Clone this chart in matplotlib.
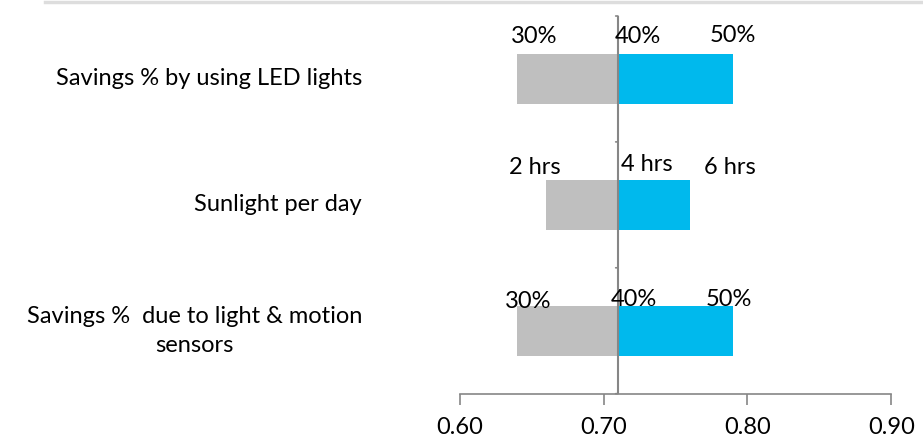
import matplotlib
matplotlib.use("Agg")
import matplotlib.pyplot as plt
from matplotlib.lines import Line2D

plt.rcParams['font.family'] = ['Lato', 'DejaVu Sans']

# Tornado chart: each factor swings around a base value
categories = ["Savings %  due to light & motion\nsensors",
              "Sunlight per day",
              "Savings % by using LED lights"]
base_value = 0.71
low_values = [0.64, 0.66, 0.64]
high_values = [0.79, 0.76, 0.79]
low_labels = ["30%", "2 hrs", "30%"]
mid_labels = ["40%", "4 hrs", "40%"]
high_labels = ["50%", "6 hrs", "50%"]
x_ticks = [0.60, 0.70, 0.80, 0.90]

GRAY = "#BFBFBF"
BLUE = "#00B9ED"
AXIS = "#868686"
FS = 17

fig = plt.figure(figsize=(9.23, 4.47), dpi=100)
ax = fig.add_axes([0.498, 0.1193, 0.4676, 0.8449])

ypos = list(range(len(categories)))
ax.barh(ypos, [lo - base_value for lo in low_values], left=base_value,
        height=0.4, color=GRAY, zorder=2)
ax.barh(ypos, [hi - base_value for hi in high_values], left=base_value,
        height=0.4, color=BLUE, zorder=2)

ax.set_xlim(0.60, 0.90)
ax.set_ylim(-0.5, len(categories) - 0.5)

# value axis along the bottom
ax.set_xticks(x_ticks)
ax.set_xticklabels([f"{t:.2f}" for t in x_ticks], fontsize=FS)
ax.tick_params(axis='x', direction='out', length=8, width=1.2, color=AXIS,
               pad=9)
for s in ['top', 'right', 'left']:
    ax.spines[s].set_visible(False)
ax.spines['bottom'].set_color(AXIS)
ax.spines['bottom'].set_linewidth(1.2)

# category axis crossing at the base value
ax.add_line(Line2D([base_value, base_value], [-0.5, len(categories) - 0.5],
                   color=AXIS, lw=1.5, zorder=3))
ax.set_yticks([])
for b in range(len(categories) + 1):
    ax.annotate("", xy=(base_value, b - 0.5), xycoords='data',
                xytext=(-5, 0), textcoords='offset pixels',
                arrowprops=dict(arrowstyle='-', color=AXIS, lw=1.2))

# category names to the left of the plot area
for y, name in zip(ypos, categories):
    ax.text(-0.226, y, name, transform=ax.get_yaxis_transform(),
            ha='right', va='center', multialignment='center', fontsize=FS,
            linespacing=1.45)

# swing labels
low_off = [(11, 29), (-11, 37), (17, 42)]
mid_off = [(16, 31), (29, 40), (20, 42)]
high_off = [(-4, 31), (40, 37), (0, 43)]
for i in ypos:
    ax.annotate(low_labels[i], (low_values[i], i), xytext=low_off[i],
                textcoords='offset pixels', ha='center', va='center',
                fontsize=FS)
    ax.annotate(mid_labels[i], (base_value, i), xytext=mid_off[i],
                textcoords='offset pixels', ha='center', va='center',
                fontsize=FS)
    ax.annotate(high_labels[i], (high_values[i], i), xytext=high_off[i],
                textcoords='offset pixels', ha='center', va='center',
                fontsize=FS)

# thin rule across the top of the figure
fig.add_artist(Line2D([45 / 923, 1.0], [1 - 1.5 / 447, 1 - 1.5 / 447],
                      transform=fig.transFigure, color="#DDDDDD", lw=2.5))

fig.savefig("out.png", dpi=100)
